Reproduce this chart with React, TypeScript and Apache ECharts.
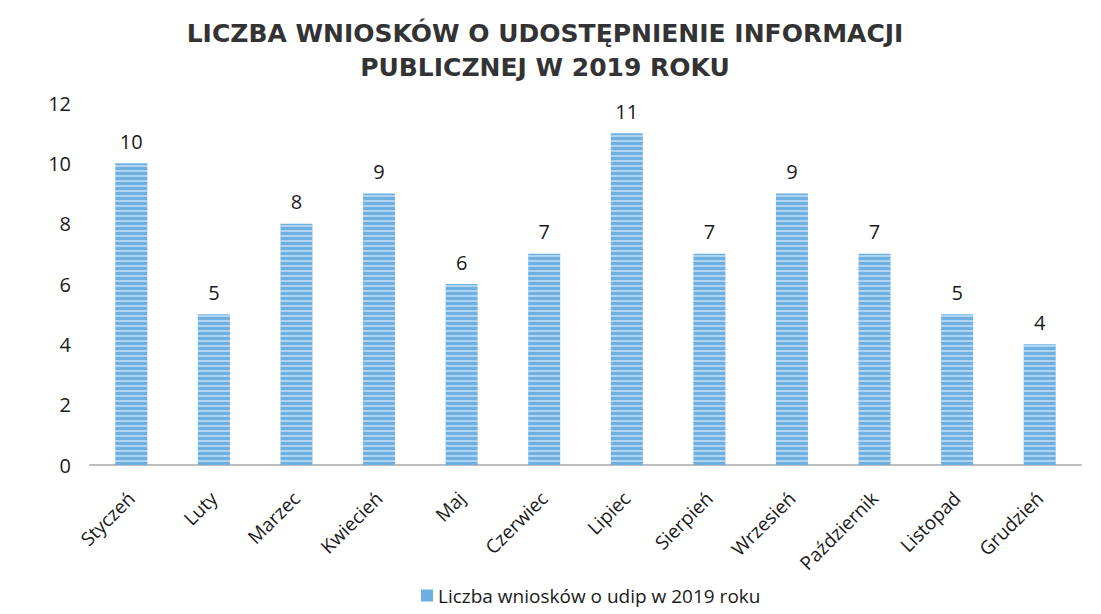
import React, { useEffect, useRef } from "react";
import * as echarts from "echarts";

const months = ["Styczeń", "Luty", "Marzec", "Kwiecień", "Maj", "Czerwiec", "Lipiec", "Sierpień", "Wrzesień", "Październik", "Listopad", "Grudzień"];
const counts = [10, 5, 8, 9, 6, 7, 11, 7, 9, 7, 5, 4];
const seriesName = "Liczba wniosków o udip w 2019 roku";
const titleText = "LICZBA WNIOSKÓW O UDOSTĘPNIENIE INFORMACJI\nPUBLICZNEJ W 2019 ROKU";

export default function App() {
  const ref = useRef<HTMLDivElement>(null);
  useEffect(() => {
    if (!ref.current) return;
    const chart = echarts.init(ref.current, undefined, { renderer: "svg" });
    const font = "'Open Sans', sans-serif";
    chart.setOption({
      animation: false,
      backgroundColor: "#ffffff",
      aria: { enabled: false, decal: { show: true } },
      title: {
        text: titleText,
        left: 540,
        textAlign: "center",
        top: 11,
        textStyle: {
          fontFamily: "'DejaVu Sans', sans-serif",
          fontWeight: "bold",
          fontSize: 25,
          lineHeight: 34,
          color: "#333333",
        },
      },
      legend: {
        bottom: 4,
        left: 416,
        itemWidth: 12,
        itemHeight: 12,
        itemGap: 8,
        icon: "rect",
        itemStyle: { color: "#6fb0e2", decal: "none" },
        textStyle: { fontFamily: font, fontSize: 19, color: "#1a1a1a" },
        data: [seriesName],
      },
      grid: { left: 90, right: 20, top: 103, bottom: 149, containLabel: false },
      xAxis: {
        type: "category",
        data: months,
        axisLine: { lineStyle: { color: "#bdbdbd", width: 2 } },
        axisTick: { show: false },
        axisLabel: {
          rotate: 45,
          interval: 0,
          margin: 30,
          fontFamily: font,
          fontSize: 19,
          color: "#1a1a1a",
        },
      },
      yAxis: {
        type: "value",
        min: 0,
        max: 12,
        interval: 2,
        splitLine: { show: false },
        axisLine: { show: false },
        axisTick: { show: false },
        axisLabel: { fontFamily: font, fontSize: 20, color: "#1a1a1a", margin: 19 },
      },
      series: [
        {
          name: seriesName,
          type: "bar",
          data: counts,
          barWidth: 32,
          itemStyle: {
            color: "#6fb0e2",
            decal: {
              symbol: "rect",
              symbolSize: 1,
              dashArrayX: [1, 0],
              dashArrayY: [2, 3],
              rotation: 0,
              color: "rgba(255,255,255,0.45)",
            },
          },
          label: {
            show: true,
            position: "top",
            distance: 12,
            fontFamily: font,
            fontSize: 20,
            color: "#1a1a1a",
          },
        },
      ],
    });
    return () => chart.dispose();
  }, []);
  return <div ref={ref} style={{ width: 1101, height: 614, position: "absolute", left: 0, top: 0 }} />;
}
